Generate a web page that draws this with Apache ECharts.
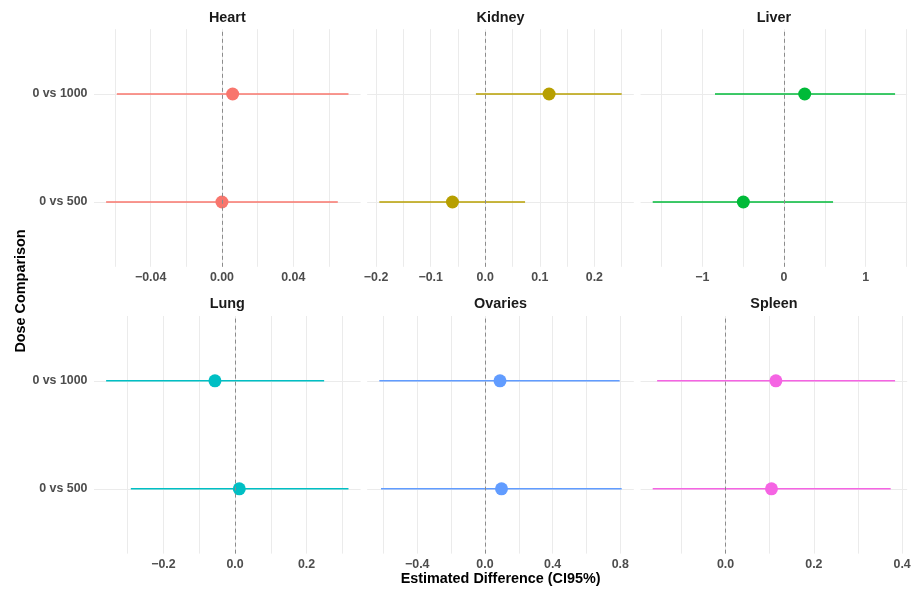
<!DOCTYPE html>
<html>
<head>
<meta charset="utf-8">
<script src="https://cdn.jsdelivr.net/npm/echarts@6/dist/echarts.min.js"></script>
<style>html,body{margin:0;padding:0;background:#fff}#c{width:920px;height:589px}</style>
</head>
<body>
<div id="c"></div>
<script>
const organs = ['Heart', 'Kidney', 'Liver', 'Lung', 'Ovaries', 'Spleen'];
const comparisons = ['0 vs 500', '0 vs 1000'];
const colors = ['#F8766D', '#B79F00', '#00BA38', '#00BFC4', '#619CFF', '#F564E3'];

// per organ, in organ order
const est500  = [0.000, -0.060, -0.498,  0.012,  0.098,  0.104];
const lo500   = [-0.065, -0.194, -1.607, -0.291, -0.614, -0.165];
const hi500   = [0.065,  0.073,  0.600,  0.317,  0.808,  0.374];
const est1000 = [0.006,  0.117,  0.253, -0.056,  0.089,  0.114];
const lo1000  = [-0.059, -0.017, -0.845, -0.360, -0.624, -0.155];
const hi1000  = [0.071,  0.250,  1.359,  0.249,  0.796,  0.384];

// tick labels and grid lines per panel
const tickLabels = [
  [-0.04, 0, 0.04],
  [-0.2, -0.1, 0, 0.1, 0.2],
  [-1, 0, 1],
  [-0.2, 0, 0.2],
  [-0.4, 0, 0.4, 0.8],
  [0, 0.2, 0.4]
];
const gridValues = [
  [-0.06, -0.04, -0.02, 0, 0.02, 0.04, 0.06],
  [-0.2, -0.15, -0.1, -0.05, 0, 0.05, 0.1, 0.15, 0.2, 0.25],
  [-1.5, -1, -0.5, 0, 0.5, 1, 1.5],
  [-0.3, -0.2, -0.1, 0, 0.1, 0.2, 0.3],
  [-0.6, -0.4, -0.2, 0, 0.2, 0.4, 0.6, 0.8],
  [-0.1, 0, 0.1, 0.2, 0.3, 0.4]
];
const labelDecimals = [2, 1, 0, 1, 1, 1];

const FONT = '"Liberation Sans", Arial, sans-serif';
const colLeft = [94, 367.2, 640.6];
const rowTop = [29.2, 316];
const panelW = 266.6, panelH = 237.6;

const chart = echarts.init(document.getElementById('c'), null, {renderer: 'canvas'});

const grids = [], xAxes = [], yAxes = [], series = [], graphics = [];
organs.forEach((org, i) => {
  const col = i % 3, row = Math.floor(i / 3);
  grids.push({left: colLeft[col], top: rowTop[row], width: panelW, height: panelH, containLabel: false});
  const lows = [lo500[i], lo1000[i]], highs = [hi500[i], hi1000[i]];
  const mn = Math.min(...lows), mx = Math.max(...highs);
  const pad = (mx - mn) * 0.05;
  const d = labelDecimals[i];
  xAxes.push({
    type: 'value', gridIndex: i, min: mn - pad, max: mx + pad,
    axisLine: {show: false},
    axisTick: {show: false, customValues: gridValues[i]},
    axisLabel: {
      customValues: tickLabels[i], margin: 5,
      color: '#4d4d4d', fontWeight: 'bold', fontSize: 12.4, fontFamily: FONT,
      formatter: v => (v < -1e-9 ? '\u2212' : '') + Math.abs(v).toFixed(d)
    },
    splitLine: {show: true, lineStyle: {color: '#ebebeb', width: 1}}
  });
  yAxes.push({
    type: 'value', gridIndex: i, min: 0.4, max: 2.6,
    axisLine: {show: false},
    axisTick: {show: false, customValues: [1, 2]},
    axisLabel: {
      show: col === 0, customValues: [1, 2], margin: 6.5,
      color: '#4d4d4d', fontWeight: 'bold', fontSize: 12.4, fontFamily: FONT,
      formatter: v => comparisons[Math.round(v) - 1]
    },
    splitLine: {show: true, lineStyle: {color: '#ebebeb', width: 1}}
  });
  const barData = comparisons.map((c, k) => [lows[k], highs[k], k + 1]);
  const ptData = [[est500[i], 1], [est1000[i], 2]];
  series.push({
    type: 'custom', xAxisIndex: i, yAxisIndex: i, silent: true,
    encode: {x: [0, 1], y: 2},
    data: barData,
    renderItem: (params, api) => {
      const a = api.coord([api.value(0), api.value(2)]);
      const b = api.coord([api.value(1), api.value(2)]);
      return {type: 'line', shape: {x1: a[0], y1: a[1], x2: b[0], y2: b[1]},
        style: {stroke: colors[i], lineWidth: 1.4}};
    },
    markLine: {
      silent: true, symbol: 'none', label: {show: false},
      lineStyle: {color: '#8c8c8c', type: [4, 3], width: 1},
      data: [{xAxis: 0}]
    },
    z: 2
  });
  series.push({
    type: 'scatter', xAxisIndex: i, yAxisIndex: i, silent: true,
    data: ptData, symbolSize: 13,
    itemStyle: {color: colors[i], opacity: 1},
    z: 3
  });
  graphics.push({
    type: 'text', x: colLeft[col] + panelW / 2, y: rowTop[row] - 11.5,
    style: {text: org, font: 'bold 14.4px ' + FONT, fill: '#1a1a1a', textAlign: 'center', textVerticalAlign: 'middle'}
  });
});

graphics.push(
  {type: 'text', x: colLeft[0] + (colLeft[2] + panelW - colLeft[0]) / 2, y: 579,
   style: {text: 'Estimated Difference (CI95%)', font: 'bold 14.4px ' + FONT, fill: '#000', textAlign: 'center', textVerticalAlign: 'middle'}},
  {type: 'text', x: 21, y: 291, rotation: Math.PI / 2,
   style: {text: 'Dose Comparison', font: 'bold 14.4px ' + FONT, fill: '#000', textAlign: 'center', textVerticalAlign: 'middle'}}
);

chart.setOption({
  animation: false,
  backgroundColor: '#ffffff',
  grid: grids,
  xAxis: xAxes,
  yAxis: yAxes,
  series: series,
  graphic: graphics
});
</script>
</body>
</html>
